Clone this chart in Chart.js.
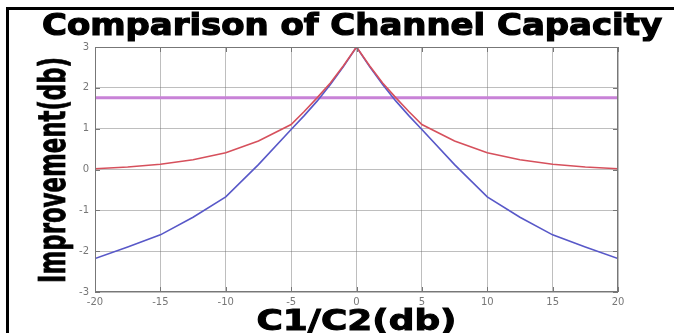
<!DOCTYPE html>
<html>
<head>
<meta charset="utf-8">
<script src="https://cdn.jsdelivr.net/npm/chart.js@4"></script>
<style>
  html, body { margin: 0; padding: 0; background: #fff; }
  #wrap { width: 674px; height: 333px; }
</style>
</head>
<body>
<div id="wrap"><canvas id="chart" width="674" height="333"></canvas></div>
<script>
// ======= DADOS =======
const ratioDb = [-20, -17.5, -15, -12.5, -10, -7.5, -5, -4, -3, -2, -1, 0, 1, 2, 3, 4, 5, 7.5, 10, 12.5, 15, 17.5, 20];
const redCurve = [0.02, 0.06, 0.13, 0.24, 0.41, 0.70, 1.10, 1.42, 1.76, 2.12, 2.54, 3.0, 2.54, 2.12, 1.76, 1.42, 1.10, 0.70, 0.41, 0.24, 0.13, 0.06, 0.02];
const blueCurve = [-2.18, -1.9, -1.6, -1.17, -0.67, 0.12, 0.98, 1.32, 1.68, 2.08, 2.52, 3.0, 2.52, 2.08, 1.68, 1.32, 0.98, 0.12, -0.67, -1.17, -1.6, -1.9, -2.18];
const purpleX = [-20, 20];
const purpleLine = [1.76, 1.76];
const xTicks = [-20, -15, -10, -5, 0, 5, 10, 15, 20];
const yTicks = [-3, -2, -1, 0, 1, 2, 3];

const titulo = "Comparison of Channel Capacity";
const tituloX = "C1/C2(db)";
const tituloY = "Improvement(db)";

const pontos = (xs, ys) => xs.map((x, i) => ({ x: x, y: ys[i] }));

// escreve texto esticado/comprimido ate a largura pedida (com contorno p/ ficar mais pesado)
function textoLargura(ctx, txt, cx, cy, largura, contorno) {
  const w = ctx.measureText(txt).width;
  ctx.save();
  ctx.translate(cx, cy);
  ctx.scale(largura / w, 1);
  ctx.fillText(txt, 0, 0);
  if (contorno) {
    ctx.lineWidth = contorno;
    ctx.strokeStyle = "#000";
    ctx.strokeText(txt, 0, 0);
  }
  ctx.restore();
}

// moldura, caixa do grafico, marcas internas e titulos
const molduraPlugin = {
  id: "moldura",
  beforeDraw(chart) {
    const ctx = chart.ctx;
    ctx.save();
    ctx.fillStyle = "#fff";
    ctx.fillRect(0, 0, chart.width, chart.height);
    ctx.fillStyle = "#000";
    ctx.fillRect(6, 7, 3, chart.height - 7);
    ctx.fillRect(6, 7, chart.width - 6, 3);
    ctx.restore();
  },
  afterDraw(chart) {
    const ctx = chart.ctx;
    const a = chart.chartArea;
    const sx = chart.scales.x;
    const sy = chart.scales.y;
    ctx.save();

    ctx.strokeStyle = "#777";
    ctx.lineWidth = 1;
    ctx.strokeRect(a.left + 0.5, a.top + 0.5, a.right - a.left - 1, a.bottom - a.top - 1);

    // marcas para dentro (estilo matlab)
    ctx.beginPath();
    xTicks.forEach((v) => {
      const px = Math.round(sx.getPixelForValue(v)) + 0.5;
      ctx.moveTo(px, a.bottom); ctx.lineTo(px, a.bottom - 5);
      ctx.moveTo(px, a.top); ctx.lineTo(px, a.top + 5);
    });
    yTicks.forEach((v) => {
      const py = Math.round(sy.getPixelForValue(v)) + 0.5;
      ctx.moveTo(a.left, py); ctx.lineTo(a.left + 5, py);
      ctx.moveTo(a.right, py); ctx.lineTo(a.right - 5, py);
    });
    ctx.stroke();

    ctx.fillStyle = "#000";
    ctx.textAlign = "center";
    ctx.textBaseline = "alphabetic";

    ctx.font = "bold 30px 'DejaVu Sans'";
    textoLargura(ctx, titulo, 352, 35, 620, 1.2);

    ctx.font = "bold 29px 'DejaVu Sans'";
    textoLargura(ctx, tituloX, (a.left + a.right) / 2, 330, 200, 1);

    // titulo do eixo y, girado e comprimido
    ctx.font = "bold 38px 'DejaVu Sans'";
    ctx.translate(65, 170);
    ctx.rotate(-Math.PI / 2);
    textoLargura(ctx, tituloY, 0, 0, 226, 0.8);

    ctx.restore();
  },
};

const ctx = document.getElementById("chart").getContext("2d");

new Chart(ctx, {
  type: "line",
  data: {
    datasets: [
      {
        label: "red",
        data: pontos(ratioDb, redCurve),
        borderColor: "rgb(214, 80, 92)",
        borderWidth: 1.6,
        pointRadius: 0,
        tension: 0,
      },
      {
        label: "blue",
        data: pontos(ratioDb, blueCurve),
        borderColor: "rgb(88, 88, 200)",
        borderWidth: 1.6,
        pointRadius: 0,
        tension: 0,
      },
      {
        label: "purple",
        data: pontos(purpleX, purpleLine),
        borderColor: "rgb(200, 130, 215)",
        borderWidth: 3,
        pointRadius: 0,
      },
    ],
  },
  options: {
    responsive: false,
    animation: false,
    layout: { padding: { left: 0, top: 47, right: 56, bottom: 0 } },
    plugins: {
      legend: { display: false },
      tooltip: { enabled: false },
      title: { display: false },
    },
    scales: {
      x: {
        type: "linear",
        min: -20,
        max: 20,
        afterBuildTicks: (s) => { s.ticks = xTicks.map((v) => ({ value: v })); },
        afterFit: (s) => { s.height = 41; },
        ticks: { color: "#777", font: { size: 10, family: "'DejaVu Sans'" }, padding: 4, maxRotation: 0 },
        grid: { color: "rgba(110,110,110,0.45)", borderDash: [1, 3], drawTicks: false },
        border: { display: false },
      },
      y: {
        min: -3,
        max: 3,
        afterBuildTicks: (s) => { s.ticks = yTicks.map((v) => ({ value: v })); },
        afterFit: (s) => { s.width = 95; },
        ticks: { color: "#777", font: { size: 10, family: "'DejaVu Sans'" }, padding: 6 },
        grid: { color: "rgba(110,110,110,0.45)", borderDash: [1, 3], drawTicks: false },
        border: { display: false },
      },
    },
  },
  plugins: [molduraPlugin],
});
</script>
</body>
</html>
